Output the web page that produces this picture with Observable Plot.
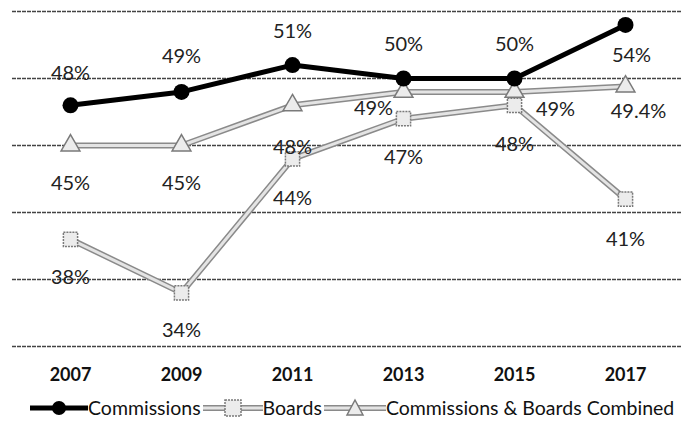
<!DOCTYPE html>
<html>
<head>
<meta charset="utf-8">
<script src="https://cdn.jsdelivr.net/npm/d3@7"></script>
<script src="https://cdn.jsdelivr.net/npm/@observablehq/plot@0.6"></script>
<style>
  html, body { margin: 0; padding: 0; background: #fff; }
  body { width: 682px; height: 423px; overflow: hidden; font-family: Lato, "Open Sans", sans-serif; }
  #legend { display: flex; align-items: center; height: 31px; padding-left: 30px; font-size: 19.5px; color: #111; white-space: nowrap; width: 682px; box-sizing: border-box; }
  #legend .item { display: flex; align-items: center; flex: none; }
  #legend svg { display: block; }
</style>
</head>
<body>
<div id="chart"></div>
<div id="legend"></div>
<script>
const years = ["2007", "2009", "2011", "2013", "2015", "2017"];
const commissions = [48, 49, 51, 50, 50, 54];
const boards = [38, 34, 44, 47, 48, 41];
const combined = [45, 45, 48, 49, 49, 49.4];
const combinedLabels = ["45%", "45%", "48%", "49%", "49%", "49.4%"];
const yTicks = [30, 35, 40, 45, 50, 55];

const rows = (vals, labels) => years.map((y, i) => ({year: y, value: vals[i], label: labels ? labels[i] : vals[i] + "%"}));
const cData = rows(commissions);
const bData = rows(boards);
const mData = rows(combined, combinedLabels);

// label placement (layout only)
const cOff = [[0,-32],[0,-35],[0,-34],[0,-34],[0,-34],[6,31]];
const bOff = [[0,38],[0,38],[0,40],[0,39],[0,39],[0,40]];
const mOff = [[0,38],[0,38],[0,42],[-30,17],[41,18],[13,25]];

const labelMarks = (data, offs) => data.map((d, i) => Plot.text([d], {
  x: "year", y: "value", text: "label", dx: offs[i][0], dy: offs[i][1],
  fontSize: 20, fill: "#222", fontFamily: "Lato, sans-serif"
}));

const chart = Plot.plot({
  width: 682,
  height: 392,
  marginLeft: 12,
  marginRight: 0,
  marginTop: 11,
  marginBottom: 46,
  style: {fontFamily: "Lato, sans-serif", background: "#fff"},
  x: {type: "point", domain: years, padding: 0.5, label: null},
  y: {domain: [30, 55], label: null, axis: null},
  marks: [
    Plot.ruleY(yTicks, {stroke: "#444", strokeWidth: 1.5, strokeDasharray: "4,1"}),
    Plot.axisX({tickSize: 0, tickPadding: 22, fontSize: 18, fontWeight: "bold", fill: "#111", label: null}),
    // Boards line (textured grey look)
    Plot.line(bData, {x: "year", y: "value", stroke: "#8a8a8a", strokeWidth: 6}),
    Plot.line(bData, {x: "year", y: "value", stroke: "#e4e4e4", strokeWidth: 3}),
    Plot.dot(bData, {x: "year", y: "value", symbol: "square", r: 8, fill: "#ececec", stroke: "#7a7a7a", strokeWidth: 1.5, strokeDasharray: "2,1"}),
    // Combined line
    Plot.line(mData, {x: "year", y: "value", stroke: "#8a8a8a", strokeWidth: 6}),
    Plot.line(mData, {x: "year", y: "value", stroke: "#e4e4e4", strokeWidth: 3}),
    Plot.dot(mData, {x: "year", y: "value", symbol: "triangle", r: 7, fill: "#ececec", stroke: "#7a7a7a", strokeWidth: 1.5}),
    // Commissions
    Plot.line(cData, {x: "year", y: "value", stroke: "#000", strokeWidth: 5}),
    Plot.dot(cData, {x: "year", y: "value", r: 8, fill: "#000"}),
    ...labelMarks(cData, cOff),
    ...labelMarks(bData, bOff),
    ...labelMarks(mData, mOff)
  ]
});
document.getElementById("chart").appendChild(chart);

// Legend
const legendItems = [
  {name: "Commissions", kind: "c", w: 58},
  {name: "Boards", kind: "b", w: 60},
  {name: "Commissions & Boards Combined", kind: "m", w: 62}
];
const legend = d3.select("#legend");
legendItems.forEach(it => {
  const item = legend.append("div").attr("class", "item");
  const svg = item.append("svg").attr("width", it.w).attr("height", 20);
  const mid = it.w / 2;
  if (it.kind === "c") {
    svg.append("line").attr("x1", 0).attr("x2", it.w).attr("y1", 10).attr("y2", 10).attr("stroke", "#000").attr("stroke-width", 5);
    svg.append("circle").attr("cx", mid).attr("cy", 10).attr("r", 7).attr("fill", "#000");
  } else {
    svg.append("line").attr("x1", 0).attr("x2", it.w).attr("y1", 10).attr("y2", 10).attr("stroke", "#8a8a8a").attr("stroke-width", 6);
    svg.append("line").attr("x1", 0).attr("x2", it.w).attr("y1", 10).attr("y2", 10).attr("stroke", "#e4e4e4").attr("stroke-width", 3);
    if (it.kind === "b") {
      svg.append("rect").attr("x", mid - 8).attr("y", 2).attr("width", 16).attr("height", 16).attr("fill", "#ececec").attr("stroke", "#7a7a7a").attr("stroke-width", 1.5).attr("stroke-dasharray", "2,1");
    } else {
      svg.append("path").attr("d", `M${mid},2 L${mid + 8},17 L${mid - 8},17 Z`).attr("fill", "#ececec").attr("stroke", "#7a7a7a").attr("stroke-width", 1.5);
    }
  }
  item.append("span").text(it.name).style("margin-right", "2px");
});
</script>
</body>
</html>
